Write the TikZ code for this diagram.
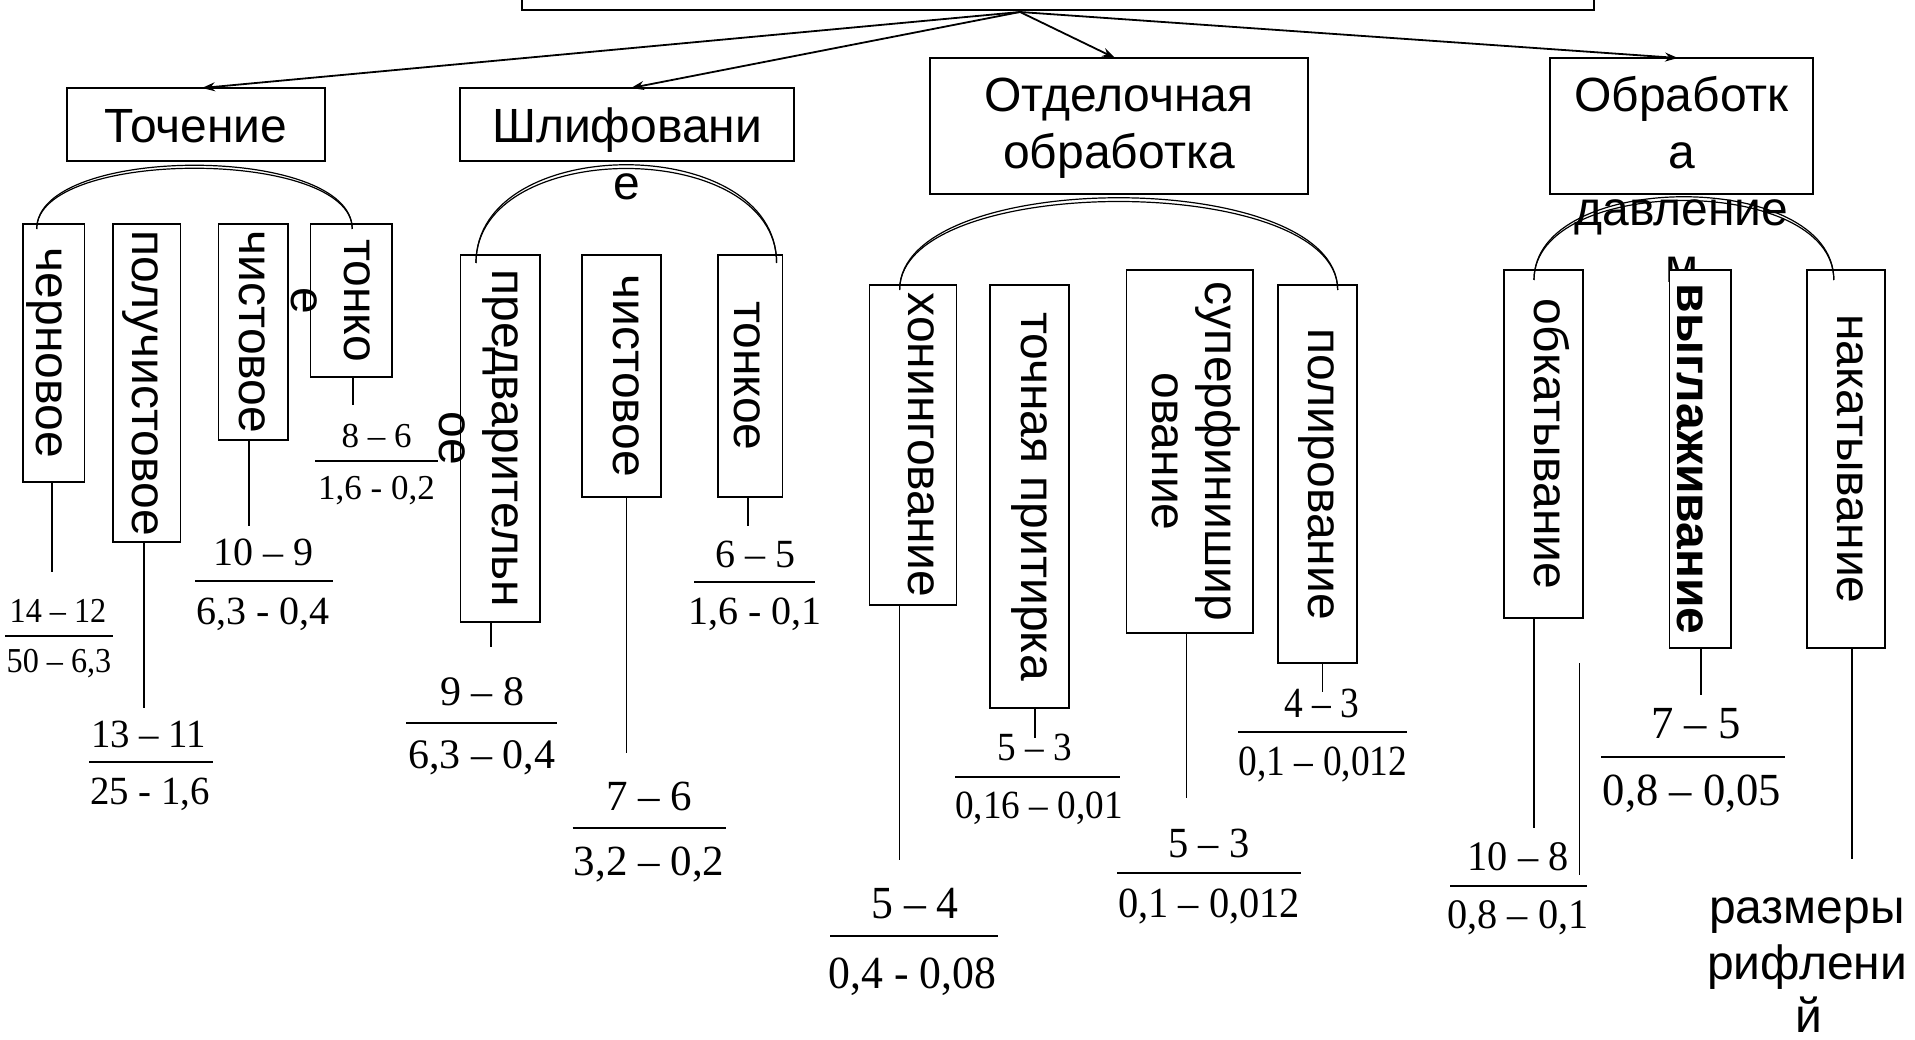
\documentclass[tikz,border=0pt]{standalone}
\usepackage{fontspec}
\usepackage{graphicx}
\usetikzlibrary{calc,arrows.meta}
\newfontfamily\arl{Liberation Sans}
\newfontfamily\tnr{Liberation Serif}
\tikzset{
 bx/.style={draw, fill=white, line width=1.6pt, inner sep=0pt, outer sep=0pt},
 lbl/.style={anchor=base, inner sep=0pt, font=\arl\fontsize{48}{55}\selectfont},
 vlbl/.style={lbl, rotate=-90},
 conn/.style={line width=1.3pt},
 arr/.style={line width=1.8pt, -{Stealth[length=13pt,width=9pt]}},
 arcl/.style={line width=1.2pt},
 fbar/.style={line width=1.6pt},
 fnum/.style={anchor=base, inner sep=0pt, font=\tnr\fontsize{#1}{#1}\selectfont},
}
\newcommand\bxat[5]{\node[bx, minimum width={#4-#2}, minimum height={#5-#3}] (#1) at ({(#2+#4)/2},{(#3+#5)/2}) {};}
\begin{document}
\begin{tikzpicture}[x=1pt,y=-1pt]
\useasboundingbox (0,0) rectangle (1915,1040);
\fill[white] (0,0) rectangle (1915,1040);
% top box and arrows
\node[bx, minimum width=1072, minimum height=100] (top) at (1058,-40) {};
\coordinate (src) at (1020,12);
\bxat{T}{67}{88}{325}{161}
\bxat{Sh}{460}{88}{794}{161}
\bxat{Ot}{930}{58}{1308}{194}
\bxat{Ob}{1550}{58}{1813}{194}
\draw[arr] (src) -- ($(T.north)+(6,0)$);
\draw[arr] (src) -- ($(Sh.north)+(4,0)$);
\draw[arr] (src) -- ($(Ot.north)+(-4,0)$);
\draw[arr] (src) -- ($(Ob.north)+(-3.5,0)$);
% level-1 labels
\node[lbl] (lT) at (196,143) {Точение};
\node[lbl] (lSh1) at (627,143) {Шлифовани};
\node[lbl] (lSh2) at (627,200) {е};
\node[lbl] (lOt1) at (1119,112) {Отделочная};
\node[lbl] (lOt2) at (1119,169) {обработка};
\node[lbl] (lOb1) at (1681.5,112) {Обработк};
\node[lbl] (lOb2) at (1681.5,169) {а};
\node[lbl] (lOb3) at (1681.5,226) {давление};
\node[lbl] (lOb4) at (1681.5,283) {м};
% vertical boxes
\bxat{B1}{22.7}{224}{84.5}{481.7}
\bxat{B2}{113}{224}{180.6}{542}
\bxat{B3}{218.6}{224}{287.8}{440}
\bxat{B4}{310.5}{224}{392}{377}
\bxat{B5}{460.5}{255}{540}{621.7}
\bxat{B6}{581.7}{255}{661}{496.7}
\bxat{B7}{717.7}{255}{782.6}{496.7}
\bxat{B8}{869.6}{285}{956.5}{605}
\bxat{B9}{990}{285}{1069}{708}
\bxat{B10}{1126.5}{270}{1253}{633}
\bxat{B11}{1277.7}{285}{1356.7}{663}
\bxat{B12}{1504}{270}{1582.7}{618}
\bxat{B13}{1669.6}{270}{1730.9}{648}
\bxat{B14}{1806.8}{270}{1885}{648}
% vertical labels
\node[vlbl] (t1) at (36.5,352.9) {черновое};
\node[vlbl] (t2) at (132.6,383) {получистовое};
\node[vlbl] (t3) at (239.8,332) {чистовое};
\node[vlbl] (t4a) at (344,300.5) {тонко};
\node[vlbl] (t4b) at (291,300.5) {е};
\node[vlbl] (t5a) at (492,438.3) {предварительн};
\node[vlbl] (t5b) at (439,438.3) {ое};
\node[vlbl] (t6) at (613,375.9) {чистовое};
\node[vlbl] (t7) at (734.6,375.9) {тонкое};
\node[vlbl] (t8) at (908.5,445) {хонингование};
\node[vlbl] (t9) at (1021,496.5) {точная притирка};
\node[vlbl] (t10a) at (1205,451.5) {суперфинишир};
\node[vlbl] (t10b) at (1152,451.5) {ование};
\node[vlbl] (t11) at (1308.7,474) {полирование};
\node[vlbl] (t12) at (1534.7,444) {обкатывание};
\node[vlbl, font=\arl\bfseries\fontsize{48}{55}\selectfont] (t13) at (1677,459) {выглаживание};
\node[vlbl] (t14) at (1837,459) {накатывание};
% arcs (double lines)
\foreach \k in {85,81}{
 \draw[arcl] ($(B1.north west)+(14,5)$) .. controls +(0,-\k) and +(0,-\k) .. ($(B4.north)+(1,5)$);
}
\foreach \k in {131,126}{
 \draw[arcl] ($(B5.north west)+(15.5,8)$) .. controls +(0,-\k) and +(0,-\k) .. ($(B7.north east)+(-6,8)$);
}
\foreach \k in {123,118}{
 \draw[arcl] ($(B8.north west)+(30,5)$) .. controls +(0,-\k) and +(0,-\k) .. ($(B11.north east)+(-19,5)$);
}
\foreach \k in {111,106}{
 \draw[arcl] ($(B12.north west)+(30,10)$) .. controls +(0,-\k) and +(0,-\k) .. ($(B14.north west)+(27,10)$);
}
% connectors
\draw[conn] ($(B1.south)+(-1.6,0)$) -- ++(0,90);
\draw[conn] ($(B2.south)+(-2.8,0)$) -- ++(0,166);
\draw[conn] ($(B3.south)+(-4.2,0)$) -- ++(0,86);
\draw[conn] ($(B4.south)+(1.75,0)$) -- ++(0,28);
\draw[conn] ($(B5.south)+(-9.25,0)$) -- ++(0,25);
\draw[conn] ($(B6.south)+(5.15,0)$) -- ++(0,256);
\draw[conn] ($(B7.south)+(-2.15,0)$) -- ++(0,29);
\draw[conn] ($(B8.south)+(-13.45,0)$) -- ++(0,255);
\draw[conn] ($(B9.south)+(5.5,0)$) -- ++(0,30);
\draw[conn] ($(B10.south)+(-3.25,0)$) -- ++(0,165);
\draw[conn] ($(B11.south)+(5.2,0)$) -- ++(0,29);
\draw[conn] ($(B12.south)+(-9.35,0)$) -- ++(0,210);
\draw[conn] ($(B13.south)+(0.65,0)$) -- ++(0,47);
\draw[conn] ($(B14.south)+(6.1,0)$) -- ++(0,211);
\coordinate (fl1) at (1579.6,663);
\coordinate (fl2) at (1579.6,875);
\draw[conn] (fl1) -- (fl2);
% fractions
\node[fnum=35] (f1n) at (58,622) {\scalebox{0.92}[1]{14 – 12}};
\draw[fbar] (5,636) -- (113,636);
\node[fnum=35] (f1d) at (59,672) {\scalebox{0.92}[1]{50 – 6,3}};
\node[fnum=40] (f2n) at (148.5,747) {\scalebox{0.97}[1]{13 – 11}};
\draw[fbar] (89,762) -- (212.5,762);
\node[fnum=40] (f2d) at (150,804) {\scalebox{0.97}[1]{25 - 1,6}};
\node[fnum=40] (f3n) at (263,565) {10 – 9};
\draw[fbar] (195,581) -- (332.5,581);
\node[fnum=40] (f3d) at (263,624) {6,3 - 0,4};
\node[fnum=35] (f4n) at (376.5,448) {8 – 6};
\draw[fbar] (315,461) -- (438,461);
\node[fnum=35] (f4d) at (376.5,500) {1,6 - 0,2};
\node[fnum=42] (f5n) at (482,705) {9 – 8};
\draw[fbar] (406,722.7) -- (557,722.7);
\node[fnum=42] (f5d) at (481.5,768) {6,3 – 0,4};
\node[fnum=43] (f6n) at (649,810) {7 – 6};
\draw[fbar] (572.6,828) -- (725.7,828);
\node[fnum=43] (f6d) at (649,875) {3,2 – 0,2};
\node[fnum=40] (f7n) at (755,567) {6 – 5};
\draw[fbar] (694,581.7) -- (814.5,581.7);
\node[fnum=40] (f7d) at (755,624) {1,6 - 0,1};
\node[fnum=46] (f8n) at (915,918) {\scalebox{0.95}[1]{5 – 4}};
\draw[fbar] (830,936) -- (998,936);
\node[fnum=46] (f8d) at (912.5,988) {\scalebox{0.95}[1]{0,4 - 0,08}};
\node[fnum=40] (f9n) at (1034.5,760) {\scalebox{0.93}[1]{5 – 3}};
\draw[fbar] (955,776.7) -- (1120,776.7);
\node[fnum=40] (f9d) at (1039,818) {\scalebox{0.93}[1]{0,16 – 0,01}};
\node[fnum=43] (f10n) at (1209,857) {\scalebox{0.94}[1]{5 – 3}};
\draw[fbar] (1117,872.7) -- (1301,872.7);
\node[fnum=43] (f10d) at (1209,917) {\scalebox{0.94}[1]{0,1 – 0,012}};
\node[fnum=43] (f11n) at (1322,717) {\scalebox{0.87}[1]{4 – 3}};
\draw[fbar] (1238,731.7) -- (1407,731.7);
\node[fnum=43] (f11d) at (1323,775) {\scalebox{0.87}[1]{0,1 – 0,012}};
\node[fnum=42] (f12n) at (1518,870) {\scalebox{0.96}[1]{10 – 8}};
\draw[fbar] (1450,886) -- (1587,886);
\node[fnum=42] (f12d) at (1518,928) {\scalebox{0.96}[1]{0,8 – 0,1}};
\node[fnum=46] (f13n) at (1696,738) {\scalebox{0.97}[1]{7 – 5}};
\draw[fbar] (1601,757) -- (1784.7,757);
\node[fnum=46] (f13d) at (1692,805) {\scalebox{0.97}[1]{0,8 – 0,05}};
% note
\node[lbl] (r1) at (1807,923) {размеры};
\node[lbl] (r2) at (1807,979) {рифлени};
\node[lbl] (r3) at (1809,1032) {й};
\end{tikzpicture}
\end{document}
